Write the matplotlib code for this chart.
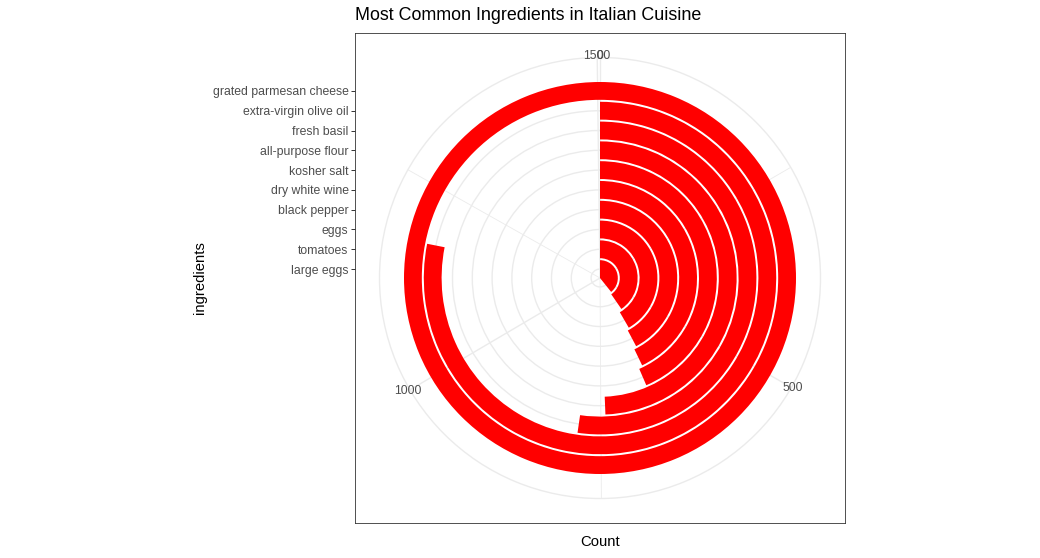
import matplotlib.pyplot as plt
import numpy as np

plt.rcParams["font.family"] = ["Liberation Sans", "DejaVu Sans"]

# data (ordered from the inner ring outwards)
ingredients = [
    "large eggs",
    "tomatoes",
    "eggs",
    "black pepper",
    "dry white wine",
    "kosher salt",
    "all-purpose flour",
    "fresh basil",
    "extra-virgin olive oil",
    "grated parmesan cheese",
]
counts = [590, 607, 626, 635, 644, 654, 742, 786, 1174, 1503]
count_breaks = [0, 500, 1000, 1500]
count_minor = [250, 750, 1250]

title = "Most Common Ingredients in Italian Cuisine"

GRID = "#EBEBEB"
TEXT = "#4D4D4D"

W, H = 1040, 558
fig = plt.figure(figsize=(W / 100, H / 100), dpi=100)

# panel square in pixels (ggplot panel)
pan_l, pan_t, pan_s = 355, 33, 490
cx, cy = pan_l + pan_s / 2, pan_t + pan_s / 2

# radial scale like coord_polar: bar extent maps to 0..0.4 of the panel
pos = np.arange(1, len(ingredients) + 1)
r_lo, r_hi = 0.55, len(ingredients) + 0.45
r_span = r_hi - r_lo
r_out = r_lo + 0.45 / 0.4 * r_span
half = 0.5 / 0.4 * r_span

# frame axes (border, left tick labels, axis titles)
fr = fig.add_axes([pan_l / W, 1 - (pan_t + pan_s) / H, pan_s / W, pan_s / H])
fr.set_ylim(r_lo - half, r_lo + half)
fr.set_xlim(0, 1)
fr.set_xticks([])
fr.set_yticks(pos)
fr.set_yticklabels(ingredients)
fr.tick_params(axis="y", length=2.6, width=0.7, color="#333333",
               labelcolor=TEXT, labelsize=8.85, pad=2.0)
for s in fr.spines.values():
    s.set_color("#333333")
    s.set_linewidth(0.6)
fr.set_xlabel("Count", fontsize=10.7, color="black", labelpad=9)
fr.set_ylabel("ingredients", fontsize=10.7, color="black", labelpad=4)

# polar axes, circle = 0.45 of the panel
rad_px = 0.45 * pan_s
ax = fig.add_axes([(cx - rad_px) / W, 1 - (cy + rad_px) / H,
                   2 * rad_px / W, 2 * rad_px / H], projection="polar")
ax.patch.set_visible(False)
ax.set_theta_zero_location("N")
ax.set_theta_direction(-1)
ax.set_rlim(r_lo, r_out)

theta_max = max(counts)


def to_theta(v):
    return 2 * np.pi * np.asarray(v, dtype=float) / theta_max


ax.barh(pos, to_theta(counts), left=0, height=0.9, color="#FF0000",
        linewidth=0, zorder=3)

ax.set_xticks(to_theta(count_breaks))
ax.set_xticks(to_theta(count_minor), minor=True)
ax.set_xticklabels([])
ax.set_yticks(pos)
ax.set_yticklabels([])
ax.tick_params(axis="both", which="both", length=0)
ax.xaxis.grid(True, which="major", color=GRID, linewidth=1.0)
ax.xaxis.grid(True, which="minor", color=GRID, linewidth=0.6)
ax.yaxis.grid(True, color=GRID, linewidth=1.0)
ax.set_axisbelow(True)
ax.spines["polar"].set_color(GRID)
ax.spines["polar"].set_linewidth(1.0)

# theta labels sit on the outer circle, slightly outside
for v in count_breaks:
    ax.text(to_theta(v), r_out + 0.1, str(v), ha="center", va="center",
            fontsize=8.85, color=TEXT, clip_on=False)

fig.text(pan_l / W, 1 - 15 / H, title, ha="left", va="center",
         fontsize=12.9, color="black")

fig.savefig("out.png", dpi=100)
